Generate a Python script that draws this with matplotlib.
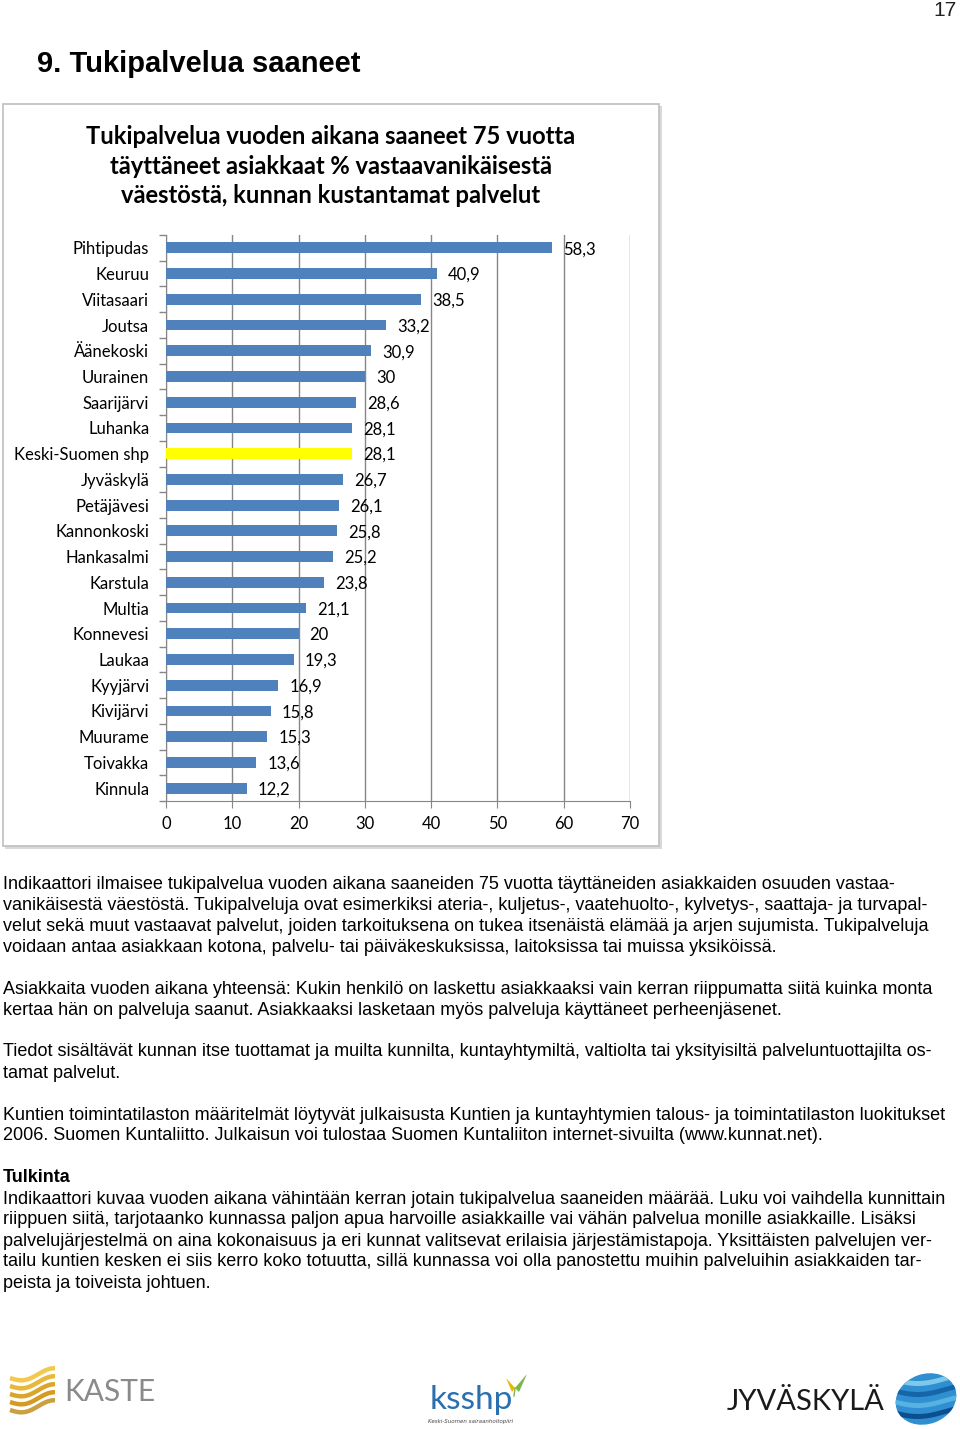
import numpy as np
import matplotlib
matplotlib.use("Agg")
import matplotlib.pyplot as plt
from matplotlib.patches import Rectangle, Ellipse, Polygon

# data
kunnat = ["Pihtipudas", "Keuruu", "Viitasaari", "Joutsa", "Äänekoski", "Uurainen",
          "Saarijärvi", "Luhanka", "Keski-Suomen shp", "Jyväskylä", "Petäjävesi",
          "Kannonkoski", "Hankasalmi", "Karstula", "Multia", "Konnevesi", "Laukaa",
          "Kyyjärvi", "Kivijärvi", "Muurame", "Toivakka", "Kinnula"]
osuus = [58.3, 40.9, 38.5, 33.2, 30.9, 30.0, 28.6, 28.1, 28.1, 26.7, 26.1,
         25.8, 25.2, 23.8, 21.1, 20.0, 19.3, 16.9, 15.8, 15.3, 13.6, 12.2]
korostus = "Keski-Suomen shp"
x_ticks = [0, 10, 20, 30, 40, 50, 60, 70]

otsikko = "Tukipalvelua vuoden aikana saaneet 75 vuotta\ntäyttäneet asiakkaat % vastaavanikäisestä\nväestöstä, kunnan kustantamat palvelut"

kappaleet = [
    (884, ["Indikaattori ilmaisee tukipalvelua vuoden aikana saaneiden 75 vuotta täyttäneiden asiakkaiden osuuden vastaa-",
           "vanikäisestä väestöstä. Tukipalveluja ovat esimerkiksi ateria-, kuljetus-, vaatehuolto-, kylvetys-, saattaja- ja turvapal-",
           "velut sekä muut vastaavat palvelut, joiden tarkoituksena on tukea itsenäistä elämää ja arjen sujumista. Tukipalveluja",
           "voidaan antaa asiakkaan kotona, palvelu- tai päiväkeskuksissa, laitoksissa tai muissa yksiköissä."]),
    (989, ["Asiakkaita vuoden aikana yhteensä: Kukin henkilö on laskettu asiakkaaksi vain kerran riippumatta siitä kuinka monta",
           "kertaa hän on palveluja saanut. Asiakkaaksi lasketaan myös palveluja käyttäneet perheenjäsenet."]),
    (1052, ["Tiedot sisältävät kunnan itse tuottamat ja muilta kunnilta, kuntayhtymiltä, valtiolta tai yksityisiltä palveluntuottajilta os-",
            "tamat palvelut."]),
    (1115, ["Kuntien toimintatilaston määritelmät löytyvät julkaisusta Kuntien ja kuntayhtymien talous- ja toimintatilaston luokitukset",
            "2006. Suomen Kuntaliitto. Julkaisun voi tulostaa Suomen Kuntaliiton internet-sivuilta (www.kunnat.net)."]),
    (1199, ["Indikaattori kuvaa vuoden aikana vähintään kerran jotain tukipalvelua saaneiden määrää. Luku voi vaihdella kunnittain",
            "riippuen siitä, tarjotaanko kunnassa paljon apua harvoille asiakkaille vai vähän palvelua monille asiakkaille. Lisäksi",
            "palvelujärjestelmä on aina kokonaisuus ja eri kunnat valitsevat erilaisia järjestämistapoja. Yksittäisten palvelujen ver-",
            "tailu kuntien kesken ei siis kerro koko totuutta, sillä kunnassa voi olla panostettu muihin palveluihin asiakkaiden tar-",
            "peista ja toiveista johtuen."]),
]

W, H = 960, 1429
TEXT_FONT = ["Liberation Sans", "DejaVu Sans"]
CHART_FONT = ["Lato", "DejaVu Sans"]

fig = plt.figure(figsize=(W / 100, H / 100), dpi=100)
fig.patch.set_facecolor("white")

# page layer in pixel coordinates
bg = fig.add_axes([0, 0, 1, 1])
bg.set_xlim(0, W)
bg.set_ylim(H, 0)
bg.axis("off")

bg.text(957, 10, "17", ha="right", va="center", fontsize=15, family=TEXT_FONT, color="#222222")
bg.text(37, 64, "9. Tukipalvelua saaneet", ha="left", va="center", fontsize=21,
        fontweight="bold", family=TEXT_FONT)

# chart frame
bg.add_patch(Rectangle((5, 106), 657, 743, facecolor="#d9d9d9", edgecolor="none"))
bg.add_patch(Rectangle((3, 104), 656, 742, facecolor="white", edgecolor="#bfbfbf", lw=1.2))
bg.text(331, 166, otsikko, ha="center", va="center", fontsize=17.1, fontweight="bold",
        family=CHART_FONT, linespacing=1.35)

# body text
for y0, rivit in kappaleet:
    for i, rivi in enumerate(rivit):
        bg.text(3, y0 + i * 21, rivi, ha="left", va="center", fontsize=13, family=TEXT_FONT)
bg.text(3, 1178, "Tulkinta", ha="left", va="center", fontsize=13, fontweight="bold", family=TEXT_FONT)

# logos
t = np.linspace(0, 1, 60)
for k in range(5):
    xs = 10 + 45 * t
    ys = 1378 + k * 8 + 4 * np.sin(t * np.pi * 1.6) - 6 * t
    bg.plot(xs, ys, color=["#f2c94c", "#e8b83a", "#dca52a", "#d59a22", "#caa040"][k], lw=3.2,
            solid_capstyle="butt")
bg.text(64, 1392, "KASTE", ha="left", va="center", fontsize=21.5, color="#8a8a8c", family=CHART_FONT)

bg.text(471, 1400, "ksshp", ha="center", va="center", fontsize=24, color="#2a6fb0", family=CHART_FONT)
bg.add_patch(Polygon([[515, 1388], [506, 1378], [512, 1392]], facecolor="#f0b400", edgecolor="none"))
bg.add_patch(Polygon([[515, 1388], [527, 1374], [519, 1392]], facecolor="#7ab648", edgecolor="none"))
bg.plot([515, 514], [1388, 1396], color="#7ab648", lw=1)
bg.text(471, 1421, "Keski-Suomen sairaanhoitopiiri", ha="center", va="center", fontsize=4,
        style="italic", color="#444444")

bg.text(806, 1402, "JYVÄSKYLÄ", ha="center", va="center", fontsize=21, color="#1a1a1a",
        family=CHART_FONT)
pallo = Ellipse((926, 1399), 62, 50, angle=-20, facecolor="#2f8fd0", edgecolor="none")
bg.add_patch(pallo)
for k, c in enumerate(["#7ec8ea", "#1565a8", "#56b2e3", "#0b4f8f", "#9fd8f2"]):
    xs = np.linspace(890, 962, 40)
    ys = 1376 + k * 11 + 5 * np.sin((xs - 890) / 72 * np.pi * 1.3)
    band = Polygon(np.column_stack([np.r_[xs, xs[::-1]], np.r_[ys, ys[::-1] + 5]]),
                   facecolor=c, edgecolor="none")
    bg.add_patch(band)
    band.set_clip_path(pallo)

# bar chart
ax = fig.add_axes([166 / W, 1 - 801 / H, 464 / W, 566 / H])
ax.patch.set_alpha(0)
y = np.arange(len(kunnat))
colors = ["#ffff00" if k == korostus else "#4f81bd" for k in kunnat]
ax.barh(y, osuus, height=0.42, color=colors, zorder=3)
ax.set_ylim(len(kunnat) - 0.5, -0.5)
ax.set_xlim(0, 70)
ax.set_xticks(x_ticks)
ax.set_xticklabels([str(v) for v in x_ticks], fontsize=12, family=CHART_FONT)
ax.set_yticks(y)
ax.set_yticklabels(kunnat, fontsize=12, family=CHART_FONT)
ax.tick_params(axis="y", length=0, pad=12)
ax.set_yticks(np.arange(-0.5, len(kunnat)), minor=True)
ax.tick_params(axis="y", which="minor", length=5, width=1, color="#868686", direction="out")
ax.tick_params(axis="x", length=5, color="#868686", direction="out", pad=6)
ax.grid(axis="x", color="#868686", lw=1, zorder=0)
for s in ["top", "right"]:
    ax.spines[s].set_visible(False)
for s in ["left", "bottom"]:
    ax.spines[s].set_color("#868686")

for i, v in enumerate(osuus):
    lab = f"{v:g}".replace(".", ",")
    ax.annotate(lab, (v, i), xytext=(8, -1), textcoords="offset points", ha="left", va="center",
                fontsize=12, family=CHART_FONT)

fig.savefig("out.png", dpi=100)
